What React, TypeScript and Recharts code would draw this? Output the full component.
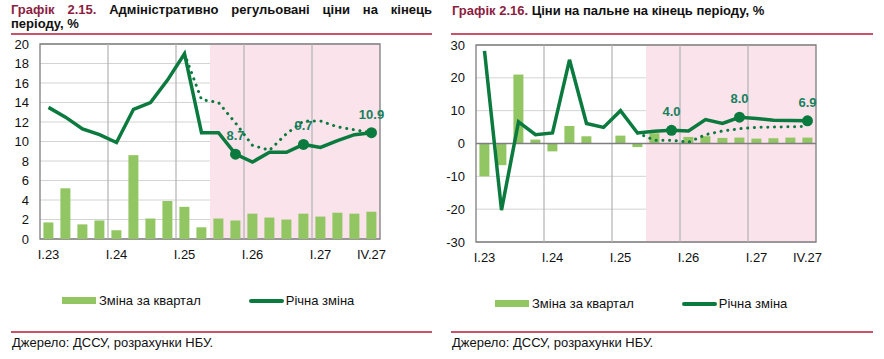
import React from 'react';
import {
  ComposedChart,
  Bar,
  Line,
  XAxis,
  YAxis,
  CartesianGrid,
  ReferenceArea,
  ReferenceLine,
  LabelList,
} from 'recharts';

// quarters, I.23 .. IV.27
const quarters = [
  'I.23', 'II.23', 'III.23', 'IV.23',
  'I.24', 'II.24', 'III.24', 'IV.24',
  'I.25', 'II.25', 'III.25', 'IV.25',
  'I.26', 'II.26', 'III.26', 'IV.26',
  'I.27', 'II.27', 'III.27', 'IV.27',
];
const xTicks = ['I.23', 'I.24', 'I.25', 'I.26', 'I.27', 'IV.27'];
const yearStarts = ['I.24', 'I.25', 'I.26', 'I.27'];
const forecastFrom = 'III.25';
const forecastTo = 'IV.27';
const markedQuarters = ['IV.25', 'IV.26', 'IV.27'];

// Графік 2.15 – адміністративно регульовані ціни
const adminQuarterly = [1.7, 5.2, 1.5, 1.9, 0.9, 8.6, 2.1, 3.9, 3.3, 1.2, 2.1, 1.9, 2.6, 2.2, 2.0, 2.6, 2.3, 2.7, 2.6, 2.8];
const adminAnnual = [13.5, 12.5, 11.3, 10.7, 9.9, 13.3, 14.0, 16.3, 19.0, 10.9, 10.9, 8.7, 7.9, 8.9, 8.9, 9.7, 9.4, 10.1, 10.7, 10.9];
const adminPrevious = [null, null, null, null, null, null, null, null, 19.0, 14.3, 14.0, 11.9, 9.6, 9.1, 10.8, 12.1, 12.1, 11.5, 11.2, 10.9];
const adminTicks = [0, 2, 4, 6, 8, 10, 12, 14, 16, 18, 20];

// Графік 2.16 – ціни на пальне
const fuelQuarterly = [-10.0, -6.6, 21.0, 1.2, -2.4, 5.3, 2.2, 0.0, 2.4, -1.1, 3.1, 0.2, 2.0, 2.2, 1.7, 1.8, 1.5, 1.6, 1.8, 1.8];
const fuelAnnual = [28.2, -20.3, 6.6, 2.7, 3.2, 25.5, 6.1, 4.9, 10.0, 3.2, 3.7, 4.0, 3.8, 7.3, 6.1, 8.0, 7.6, 7.1, 7.0, 6.9];
const fuelPrevious = [null, null, null, null, null, null, null, null, null, 3.2, 1.0, 1.0, 0.4, 2.7, 3.8, 4.5, 4.9, 5.0, 5.1, 5.2];
const fuelTicks = [-30, -20, -10, 0, 10, 20, 30];

const BAR = '#92c663';
const LINE = '#0b7a3e';
const LABEL = '#17805e';
const PINK = '#fbe3eb';
const RULE = '#c9536b';
const FONT = 'Arial, "Liberation Sans", sans-serif';

const build = (q: number[], a: number[], p: (number | null)[]) =>
  quarters.map((name, i) => ({ name, quarterly: q[i], annual: a[i], previous: p[i] }));

const adminData = build(adminQuarterly, adminAnnual, adminPrevious);
const fuelData = build(fuelQuarterly, fuelAnnual, fuelPrevious);

const tickStyle = { fontSize: 13, fill: '#111', fontFamily: FONT };

function renderMarker(props: any) {
  const { cx, cy, payload, index } = props;
  if (!markedQuarters.includes(payload.name)) return <g key={`m-${index}`} />;
  return <circle key={`m-${index}`} cx={cx} cy={cy} r={5.5} fill={LINE} />;
}

function renderMarkLabel(props: any) {
  const { x, y, value, index } = props;
  if (!markedQuarters.includes(quarters[index])) return null;
  return (
    <text
      x={x}
      y={y - 14}
      textAnchor="middle"
      fontSize={13}
      fontWeight="bold"
      fontFamily={FONT}
      fill={LABEL}
    >
      {Number(value).toFixed(1)}
    </text>
  );
}

interface PanelProps {
  data: any[];
  ticks: number[];
  width: number;
  height: number;
  yWidth: number;
  margin: { top: number; right: number; bottom: number; left: number };
  zeroLine?: boolean;
}

function Panel({ data, ticks, width, height, yWidth, margin, zeroLine }: PanelProps) {
  const lo = ticks[0];
  const hi = ticks[ticks.length - 1];
  return (
    <ComposedChart width={width} height={height} data={data} margin={margin} barCategoryGap="20%">
      <ReferenceArea x1={forecastFrom} x2={forecastTo} fill={PINK} fillOpacity={1} stroke="none" />
      <CartesianGrid vertical={false} stroke="#d4d4d4" strokeWidth={1} />
      {yearStarts.map((q) => (
        <ReferenceLine key={q} x={q} position="start" stroke="#b3b3b3" strokeWidth={1.2} />
      ))}
      {zeroLine && <ReferenceLine y={0} stroke="#7f7f7f" strokeWidth={1.3} />}
      <XAxis
        dataKey="name"
        ticks={xTicks}
        interval={0}
        tickLine={false}
        axisLine={false}
        tickSize={6}
        tickMargin={5}
        tick={tickStyle}
      />
      <YAxis
        domain={[lo, hi]}
        ticks={ticks}
        interval={0}
        width={yWidth}
        tickLine={false}
        axisLine={false}
        tickSize={6}
        tickMargin={5}
        tick={tickStyle}
      />
      <Bar dataKey="quarterly" fill={BAR} isAnimationActive={false} />
      <Line
        dataKey="annual"
        stroke={LINE}
        strokeWidth={3.5}
        dot={renderMarker}
        activeDot={false}
        isAnimationActive={false}
      >
        <LabelList dataKey="annual" content={renderMarkLabel} />
      </Line>
      <Line
        dataKey="previous"
        stroke={LINE}
        strokeWidth={3}
        strokeDasharray="0.1 6.6"
        strokeLinecap="round"
        dot={false}
        activeDot={false}
        connectNulls={false}
        isAnimationActive={false}
      />
      <ReferenceArea y1={lo} y2={hi} fill="none" stroke="#7d7d7d" strokeWidth={1.3} />
    </ComposedChart>
  );
}

function LegendRow({ left, top }: { left: number; top: number }) {
  const text: React.CSSProperties = { fontSize: 13, color: '#111', fontFamily: FONT, whiteSpace: 'nowrap' };
  return (
    <div style={{ position: 'absolute', left, top, display: 'flex', alignItems: 'center' }}>
      <div style={{ width: 34, height: 7, background: BAR, marginRight: 3 }} />
      <span style={text}>Зміна за квартал</span>
      <div style={{ width: 35, height: 4, borderRadius: 2, background: LINE, marginLeft: 48, marginRight: 2 }} />
      <span style={text}>Річна зміна</span>
    </div>
  );
}

export default function App() {
  const abs = (l: number, t: number): React.CSSProperties => ({ position: 'absolute', left: l, top: t });
  const titleText: React.CSSProperties = {
    fontSize: 13,
    fontWeight: 'bold',
    fontFamily: FONT,
    color: '#111',
    whiteSpace: 'nowrap',
  };
  const maroon: React.CSSProperties = { color: '#8b1d40' };
  const source: React.CSSProperties = { fontSize: 13, fontFamily: FONT, color: '#111', whiteSpace: 'nowrap' };

  return (
    <div style={{ position: 'absolute', left: 0, top: 0, width: 884, height: 359, background: '#fff' }}>
      {/* left title */}
      <div style={{ ...abs(11, 2), ...titleText, width: 421, textAlign: 'justify', textAlignLast: 'justify' }}>
        <span style={maroon}>Графік 2.15.</span> Адміністративно регульовані ціни на кінець
      </div>
      <div style={{ ...abs(11, 16), ...titleText }}>періоду, %</div>
      <div style={{ ...abs(11, 33), width: 421, height: 1.5, background: RULE }} />

      {/* right title */}
      <div style={{ ...abs(452, 3), ...titleText }}>
        <span style={maroon}>Графік 2.16.</span> Ціни на пальне на кінець періоду, %
      </div>
      <div style={{ ...abs(451, 33), width: 422, height: 1.5, background: RULE }} />

      <div style={abs(0, 0)}>
        <Panel
          data={adminData}
          ticks={adminTicks}
          width={440}
          height={270}
          yWidth={40}
          margin={{ top: 44, right: 60, bottom: 1, left: 0 }}
        />
      </div>
      <div style={abs(440, 0)}>
        <Panel
          data={fuelData}
          ticks={fuelTicks}
          width={444}
          height={272}
          yWidth={36}
          margin={{ top: 45, right: 68, bottom: 0, left: 0 }}
          zeroLine
        />
      </div>

      <LegendRow left={62} top={293} />
      <LegendRow left={495} top={296} />

      <div style={{ ...abs(11, 331), width: 421, height: 1.5, background: RULE }} />
      <div style={{ ...abs(451, 331), width: 422, height: 1.5, background: RULE }} />
      <div style={{ ...abs(12, 335), ...source }}>Джерело: ДССУ, розрахунки НБУ.</div>
      <div style={{ ...abs(452, 335), ...source }}>Джерело: ДССУ, розрахунки НБУ.</div>
    </div>
  );
}
